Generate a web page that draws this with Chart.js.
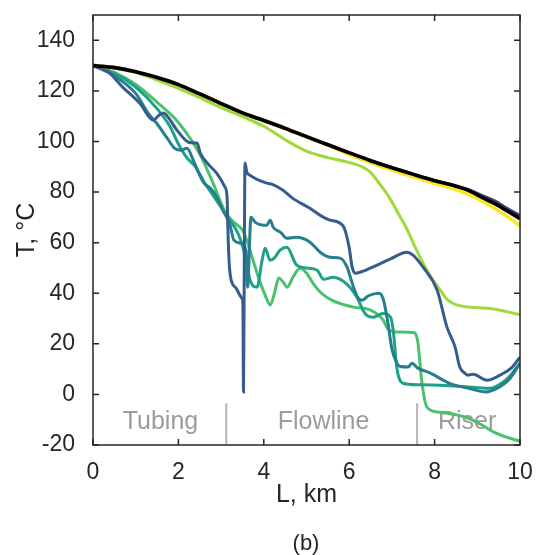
<!DOCTYPE html>
<html>
<head>
<meta charset="utf-8">
<script src="https://cdn.jsdelivr.net/npm/chart.js@4.4.1/dist/chart.umd.min.js"></script>
<style>
    body { margin: 0; background: #fff; }
    #wrap { width: 536px; height: 555px; }
</style>
</head>
<body>
<div id="wrap"><canvas id="temp-profile" width="536" height="555"></canvas></div>
<script>
// axis ticks
const lTicks = [0, 2, 4, 6, 8, 10];
const tTicks = [-20, 0, 20, 40, 60, 80, 100, 120, 140];

// section labels along the pipe (km) and borders between them
const sectionNames = ["Tubing", "Flowline", "Riser"];
const sectionCenters = [1.58, 5.4, 8.76];
const sectionBorders = [3.12, 7.59];

// temperature profiles, [L km, T °C]
const blackLine = [[0,130],[0.5,129.2],[1,127.6],[1.5,125.3],[2,122.5],[2.5,118.8],[3,115],[3.5,111.3],[4,108.3],[4.5,105.2],[5,101.9],[5.5,98.7],[6,95.5],[6.5,92.4],[7,89.6],[7.5,87],[8,84.5],[8.5,82.3],[8.8,80.6],[9.1,78],[9.4,75.5],[9.7,72.5],[10,69.5]];
const purpleLine = [[0,130],[0.5,129.2],[1,127.6],[1.5,125.3],[2,122.5],[2.5,118.8],[3,115],[3.5,111.3],[4,108.3],[4.5,105.2],[5,101.9],[5.5,98.7],[6,95.5],[6.5,92.4],[7,89.6],[7.5,87],[8,84.5],[8.5,82.3],[8.8,80.8],[9.1,78.6],[9.4,76.4],[9.7,73.4],[10,70.6]];
const yellowLine = [[0,130],[0.5,129.2],[1,127.6],[1.5,125.3],[2,122.5],[2.5,118.8],[3,115],[3.5,111.3],[4,108.3],[4.5,105.2],[5,101.9],[5.5,98.6],[6,94.8],[6.5,91.6],[7,88.7],[7.5,86],[8,83.4],[8.5,81],[8.8,79],[9.1,76.6],[9.4,73.6],[9.7,70.3],[10,66.7]];
const limeLine = [[0,130],[0.5,129],[1,127.2],[1.5,124.3],[2,121],[2.5,117.3],[3,113.4],[3.5,109.8],[4,106],[4.5,100.7],[5,96.2],[5.5,93.6],[5.8,92.5],[6.1,91.2],[6.3,90],[6.5,87.8],[6.7,83.5],[6.96,77.3],[7.15,71.5],[7.35,65.4],[7.55,58],[7.73,51.9],[7.93,46],[8.13,41.3],[8.3,37.5],[8.6,35],[9.3,34],[10,31.5]];
const blueLine = [[0,130],[0.35,127.5],[0.7,121.4],[1.1,115],[1.41,108.4],[1.55,110.5],[1.65,111.3],[1.76,109.6],[1.97,104.4],[2.27,99.5],[2.44,99.3],[2.51,95.5],[2.7,91],[2.9,87.4],[3.09,82],[3.14,78],[3.16,65],[3.18,55],[3.22,46.5],[3.35,42],[3.49,38],[3.51,36],[3.525,1],[3.545,60],[3.56,91.5],[3.6,88],[3.68,86.6],[4.07,83.5],[4.2,83],[4.45,80.7],[4.68,77.5],[5.08,73.6],[5.35,70.5],[5.55,68.9],[5.86,66.5],[6.0,58],[6.07,50.3],[6.14,47.9],[6.3,48.6],[6.49,49.9],[6.96,53.5],[7.35,56.2],[7.5,55],[7.73,50.3],[8.06,41.2],[8.29,26.6],[8.48,18.7],[8.59,10.8],[8.7,8.5],[8.78,7.6],[8.9,8],[9.23,5.6],[9.53,7.6],[9.8,10.5],[10,14.7]];
const tealLine = [[0,130],[0.5,126],[1,119],[1.3,111],[1.5,107],[1.75,101],[1.9,97.5],[2.05,96.5],[2.2,97.3],[2.35,92.5],[2.45,88.5],[2.6,83.5],[2.75,81.5],[2.9,78],[3.05,72.5],[3.2,67.5],[3.3,61],[3.45,59.8],[3.58,57],[3.62,42.4],[3.7,70],[3.8,68],[3.95,67],[4.07,66.9],[4.15,68.9],[4.22,66.1],[4.4,64],[4.54,61.7],[4.77,62.1],[5.08,60.2],[5.32,56.2],[5.55,54.2],[5.8,53.8],[5.95,50.3],[6.07,44],[6.2,38.4],[6.3,37.2],[6.45,39],[6.7,40],[6.8,37.5],[6.9,29],[7.0,18],[7.1,13],[7.2,11],[7.38,10.8],[7.47,12.3],[7.6,10.5],[7.9,8.4],[8.35,4.4],[8.8,2.4],[9.2,1],[9.5,2.8],[9.75,6],[10,12.3]];
const seaLine = [[0,130],[0.5,127],[1,121.5],[1.5,113],[1.8,106],[2.0,99],[2.2,93.5],[2.4,90],[2.6,84],[2.8,79],[3.0,74],[3.2,69],[3.4,63.5],[3.51,58.2],[3.6,52],[3.68,45.1],[3.84,42.4],[3.96,53],[4.03,57.8],[4.15,53],[4.25,54],[4.38,57],[4.54,58.2],[4.77,51.1],[5.0,50],[5.25,49.1],[5.4,45.5],[5.62,46.3],[5.95,43.5],[6.18,38.4],[6.37,32],[6.56,30.5],[6.79,32],[6.97,30.5],[7.03,25.4],[7.12,10],[7.26,4.4],[7.6,3.8],[8.13,3.6],[8.9,2.8],[9.3,2.4],[9.6,4.8],[9.8,8],[10,12.5]];
const greenLine = [[0,130],[0.5,127.3],[1,122.5],[1.5,115.5],[2,107.5],[2.5,95],[2.8,84],[3.1,72],[3.3,68],[3.5,65],[3.6,61],[3.75,53],[3.9,45],[4.05,38.5],[4.15,35.3],[4.25,40],[4.35,46],[4.45,44.5],[4.55,42.4],[4.68,46.3],[4.85,49.9],[5.0,48],[5.15,44],[5.35,40],[5.6,37.2],[6.1,34.5],[6.5,33.3],[6.8,29.3],[6.9,26],[7.1,24.7],[7.5,24.5],[7.6,21.5],[7.7,5],[7.82,-5],[8.1,-7],[8.5,-8],[8.8,-9.5],[9.1,-12],[9.4,-15],[9.7,-17],[10,-18.5]];

const axisColor = "#262626";

function toPoints(arr) {
    return arr.map((p) => ({ x: p[0], y: p[1] }));
}

function series(arr, color, width) {
    return {
        data: toPoints(arr),
        borderColor: color,
        backgroundColor: color,
        borderWidth: width,
        pointRadius: 0,
        cubicInterpolationMode: "monotone",
        fill: false,
    };
}

// no extra room for edge labels, the plot box is fixed
function noEdgePadding(s) {
    s.paddingTop = 0;
    s.paddingBottom = 0;
    s.paddingLeft = 0;
    s.paddingRight = 0;
}

// box, inward ticks, section labels and caption
const frame = {
    id: "frame",
    beforeDatasetsDraw(chart) {
        const { ctx, chartArea, scales } = chart;
        ctx.save();
        ctx.strokeStyle = "#b4b4b4";
        ctx.lineWidth = 2;
        sectionBorders.forEach((b) => {
            const px = scales.x.getPixelForValue(b);
            ctx.beginPath();
            ctx.moveTo(px, scales.y.getPixelForValue(-3.5));
            ctx.lineTo(px, chartArea.bottom);
            ctx.stroke();
        });
        ctx.filter = "blur(0.5px)";
        ctx.fillStyle = "#9c9c9c";
        ctx.font = "25px 'Liberation Sans', Arial, sans-serif";
        ctx.textAlign = "center";
        ctx.textBaseline = "middle";
        sectionNames.forEach((name, i) => {
            ctx.fillText(name, scales.x.getPixelForValue(sectionCenters[i]), scales.y.getPixelForValue(-11));
        });
        ctx.restore();
    },
    afterDatasetsDraw(chart) {
        const { ctx, chartArea, scales } = chart;
        const { left, right, top, bottom } = chartArea;
        ctx.save();
        ctx.strokeStyle = axisColor;
        ctx.lineWidth = 1.5;
        ctx.strokeRect(left, top, right - left, bottom - top);
        ctx.beginPath();
        lTicks.forEach((v) => {
            const px = scales.x.getPixelForValue(v);
            ctx.moveTo(px, bottom);
            ctx.lineTo(px, bottom - 6);
            ctx.moveTo(px, top);
            ctx.lineTo(px, top + 6);
        });
        tTicks.forEach((v) => {
            const py = scales.y.getPixelForValue(v);
            ctx.moveTo(left, py);
            ctx.lineTo(left + 6, py);
            ctx.moveTo(right, py);
            ctx.lineTo(right - 6, py);
        });
        ctx.stroke();
        ctx.restore();
    },
    afterDraw(chart) {
        const { ctx } = chart;
        ctx.save();
        ctx.fillStyle = axisColor;
        ctx.font = "22px 'Liberation Sans', Arial, sans-serif";
        ctx.textAlign = "center";
        ctx.textBaseline = "middle";
        ctx.fillText("(b)", 306, 544);
        ctx.restore();
    },
};

const tickFont = { family: "'Liberation Sans', Arial, sans-serif", size: 23 };
const titleFont = { family: "'Liberation Sans', Arial, sans-serif", size: 25 };

new Chart(document.getElementById("temp-profile"), {
    type: "line",
    data: {
        datasets: [
            series(blackLine, "#000000", 3.6),
            series(yellowLine, "#fde725", 3.6),
            series(purpleLine, "#46337e", 3.6),
            series(blueLine, "#365c8d", 3),
            series(tealLine, "#277f8e", 3),
            series(seaLine, "#1fa187", 3),
            series(greenLine, "#4ac16d", 3),
            series(limeLine, "#9fda3a", 3),
        ],
    },
    options: {
        responsive: false,
        devicePixelRatio: 1,
        animation: false,
        layout: { padding: { top: 15, right: 16, left: 0, bottom: 0 } },
        plugins: {
            legend: { display: false },
            tooltip: { enabled: false },
        },
        scales: {
            x: {
                type: "linear",
                min: 0,
                max: 10,
                afterBuildTicks: (s) => { s.ticks = lTicks.map((v) => ({ value: v })); },
                afterFit: (s) => { s.height = 110; noEdgePadding(s); },
                grid: { display: false },
                border: { display: false },
                ticks: { font: tickFont, color: axisColor, padding: 6, maxRotation: 0 },
                title: { display: true, text: "L, km", font: titleFont, color: axisColor, padding: { top: 0, bottom: 45 } },
            },
            y: {
                type: "linear",
                min: -20,
                max: 150,
                afterBuildTicks: (s) => { s.ticks = tTicks.map((v) => ({ value: v })); },
                afterFit: (s) => { s.width = 93; noEdgePadding(s); },
                grid: { display: false },
                border: { display: false },
                ticks: { font: tickFont, color: axisColor, padding: 10 },
                title: { display: true, text: "T, °C", font: titleFont, color: axisColor, padding: { top: 12, bottom: 0 } },
            },
        },
    },
    plugins: [frame],
});
</script>
</body>
</html>
